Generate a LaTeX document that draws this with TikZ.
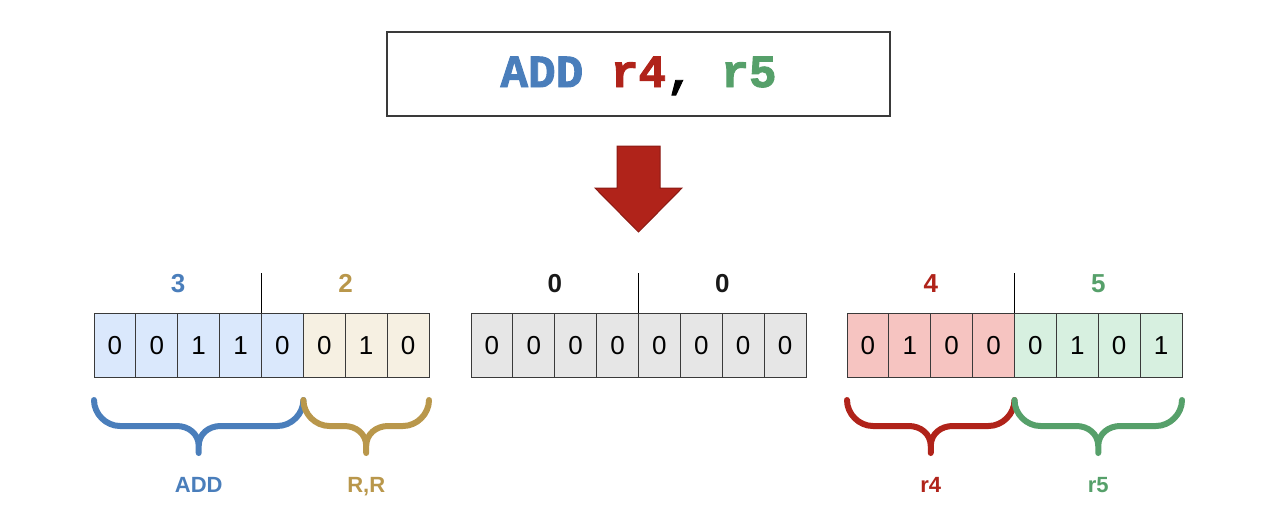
\documentclass[tikz,border=0pt]{standalone}
\usepackage{fontspec}
\setmainfont{Liberation Sans}
\newfontfamily\monob[BoldFeatures={FakeBold=2}]{Liberation Mono}
\definecolor{blueT}{HTML}{4A7EBB}
\definecolor{goldT}{HTML}{B9974B}
\definecolor{redT}{HTML}{B0231A}
\definecolor{greenT}{HTML}{56A06A}
\definecolor{blueF}{HTML}{DAE8FC}
\definecolor{goldF}{HTML}{F6F0E2}
\definecolor{grayF}{HTML}{E6E6E6}
\definecolor{redF}{HTML}{F6C4C1}
\definecolor{greenF}{HTML}{D7F0E0}
\definecolor{cellline}{HTML}{3A3A3A}
\definecolor{arrowF}{HTML}{B0231A}
\definecolor{arrowD}{HTML}{8B1A13}
\tikzset{
  cell/.style={draw=cellline, line width=0.9pt, minimum width=41.875pt, minimum height=64pt,
    inner sep=0pt, outer sep=0pt, anchor=north west, text height=19pt, text depth=0pt,
    font=\fontsize{26}{26}\selectfont},
  hdr/.style={anchor=base, inner sep=0pt, font=\bfseries\fontsize{26}{26}\selectfont},
  lbl/.style={anchor=base, inner sep=0pt, font=\bfseries\fontsize{22}{22}\selectfont},
  bracestyle/.style={line width=6pt, line cap=round, line join=round},
  divider/.style={draw=black, line width=0.9pt},
  titlebox/.style={draw=cellline, line width=2pt, minimum width=503pt, minimum height=84pt,
    text height=26pt, text depth=0pt, font=\monob\bfseries\fontsize{46}{46}\selectfont},
}
\newcommand{\curlybr}[3]{%
  \pgfmathsetmacro\cmid{(#1+#2)/2}%
  \draw[bracestyle, #3] (#1,400) .. controls (#1,414) and (#1+12,426) .. (#1+26,426)
    -- (\cmid-22,426) .. controls (\cmid-10,426) and (\cmid,434) .. (\cmid,446) -- (\cmid,453)
    -- (\cmid,446) .. controls (\cmid,434) and (\cmid+10,426) .. (\cmid+22,426)
    -- (#2-26,426) .. controls (#2-12,426) and (#2,414) .. (#2,400);}
\begin{document}
\begin{tikzpicture}[x=1pt,y=-1pt]
\useasboundingbox (0,0) rectangle (1270,520);
% title
\node[titlebox] (title) at (638.5,74) {{\color{blueT}ADD} {\color{redT}r4}, {\color{greenT}r5}};
% arrow
\draw[fill=arrowF, draw=arrowD, line width=1pt, line join=miter]
  (617,146) -- (660,146) -- (660,188) -- (682,188) -- (638.5,232) -- (595,188) -- (617,188) -- cycle;
% left group
\foreach \b/\c [count=\i] in {0/blueF,0/blueF,1/blueF,1/blueF,0/blueF,0/goldF,1/goldF,0/goldF}
  \node[cell, fill=\c] (L\i) at ({94+(\i-1)*41.875},313) {\b};
% middle group
\foreach \b/\c [count=\i] in {0/grayF,0/grayF,0/grayF,0/grayF,0/grayF,0/grayF,0/grayF,0/grayF}
  \node[cell, fill=\c] (M\i) at ({471+(\i-1)*41.875},313) {\b};
% right group
\foreach \b/\c [count=\i] in {0/redF,1/redF,0/redF,0/redF,0/greenF,1/greenF,0/greenF,1/greenF}
  \node[cell, fill=\c] (R\i) at ({847+(\i-1)*41.875},313) {\b};
% dividers
\draw[divider] (L5.north west) -- ++(0,-40);
\draw[divider] (M5.north west) -- ++(0,-40);
\draw[divider] (R5.north west) -- ++(0,-40);
% headers
\node[hdr, text=blueT] (h1) at (178,292) {3};
\node[hdr, text=goldT] (h2) at (345.5,292) {2};
\node[hdr, text=black!90] (h3) at (554.75,292) {0};
\node[hdr, text=black!90] (h4) at (722.25,292) {0};
\node[hdr, text=redT] (h5) at (930.75,292) {4};
\node[hdr, text=greenT] (h6) at (1098.25,292) {5};
% braces
\curlybr{94}{303.4}{blueT}
\curlybr{303.4}{429}{goldT}
\curlybr{847}{1014.5}{redT}
\curlybr{1014.5}{1182}{greenT}
% labels
\node[lbl, text=blueT] (t1) at (198.7,492) {ADD};
\node[lbl, text=goldT] (t2) at (366.2,492) {R,R};
\node[lbl, text=redT] (t3) at (930.75,492) {r4};
\node[lbl, text=greenT] (t4) at (1098.25,492) {r5};
\end{tikzpicture}
\end{document}
